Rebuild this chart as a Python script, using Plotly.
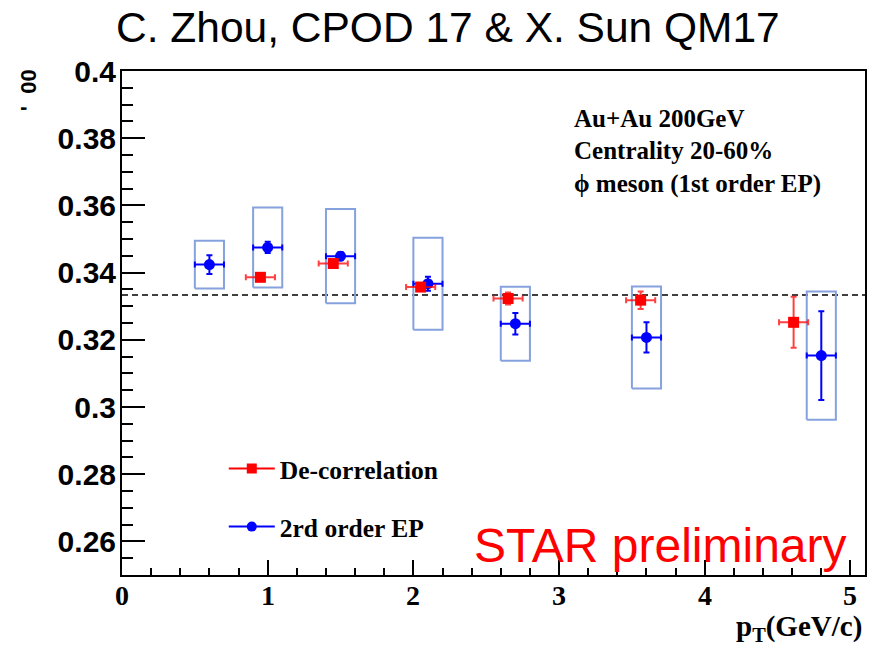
import plotly.graph_objects as go

# phi-meson spin alignment rho'_00 vs pT, Au+Au 200 GeV, centrality 20-60%
pt_dec = [0.95, 1.45, 2.05, 2.65, 3.56, 4.61]
rho_dec = [0.3386, 0.3427, 0.3357, 0.3323, 0.3318, 0.3252]
stat_dec = [0.0008, 0.0010, 0.0010, 0.0018, 0.0026, 0.0076]

pt_ep = [0.60, 1.00, 1.50, 2.10, 2.70, 3.60, 4.80]
rho_ep = [0.3424, 0.3475, 0.3449, 0.3367, 0.3248, 0.3207, 0.3153]
stat_ep = [0.0028, 0.0017, 0.0012, 0.0021, 0.0032, 0.0045, 0.0132]
sys_ep = [0.0071, 0.0119, 0.0140, 0.0137, 0.0110, 0.0152, 0.0191]

x_ticks = [0, 1, 2, 3, 4, 5]
y_ticks = [0.26, 0.28, 0.30, 0.32, 0.34, 0.36, 0.38, 0.40]
y_tick_text = ["0.26", "0.28", "0.3", "0.32", "0.34", "0.36", "0.38", "0.4"]

bin_half = 0.1            # half-width of the pT bins
rho_no_align = 1.0 / 3.0  # no spin alignment
x_range = [0, 5.1]
y_range = [0.25, 0.40]

SANS = "Liberation Sans"
SERIF = "Liberation Serif"
RED = "#ff0000"
BLUE = "#0000ff"
BOX = "#86a2de"

fig = go.Figure()

# reference line at 1/3
fig.add_trace(go.Scatter(
    x=x_range, y=[rho_no_align, rho_no_align], mode="lines",
    line=dict(color="black", width=1.5, dash="6px,4px"),
    showlegend=False, hoverinfo="skip"))

# systematic boxes for the 2nd-order EP points
bx, by = [], []
for x, y, s in zip(pt_ep, rho_ep, sys_ep):
    bx += [x - bin_half, x + bin_half, x + bin_half, x - bin_half, x - bin_half, None]
    by += [y - s, y - s, y + s, y + s, y - s, None]
fig.add_trace(go.Scatter(
    x=bx, y=by, mode="lines", line=dict(color=BOX, width=2),
    showlegend=False, hoverinfo="skip"))

fig.add_trace(go.Scatter(
    x=pt_ep, y=rho_ep, mode="markers",
    marker=dict(symbol="circle", size=11, color=BLUE),
    error_y=dict(type="data", array=stat_ep, color=BLUE, thickness=2, width=3),
    error_x=dict(type="constant", value=bin_half, color=BLUE, thickness=2, width=3),
    showlegend=False))

fig.add_trace(go.Scatter(
    x=pt_dec, y=rho_dec, mode="markers",
    marker=dict(symbol="square", size=11, color=RED),
    error_y=dict(type="data", array=stat_dec, color="rgba(255,0,0,0.75)", thickness=2, width=3),
    error_x=dict(type="constant", value=bin_half, color="rgba(255,0,0,0.75)", thickness=2, width=3),
    showlegend=False))

# legend entries (line + marker style)
fig.add_trace(go.Scatter(
    x=[None], y=[None], mode="lines+markers", name="De-correlation",
    line=dict(color=RED, width=2), marker=dict(symbol="square", size=10, color=RED),
    legend="legend"))
fig.add_trace(go.Scatter(
    x=[None], y=[None], mode="lines+markers", name="2rd order EP",
    line=dict(color=BLUE, width=2), marker=dict(symbol="circle", size=10, color=BLUE),
    legend="legend2"))

legend_font = dict(family=SERIF, size=25.5, color="black", weight="bold")
legend_common = dict(font=legend_font, bgcolor="rgba(0,0,0,0)", borderwidth=0,
                     xanchor="left", yanchor="middle", itemwidth=46)

fig.update_layout(
    width=880, height=651,
    margin=dict(l=122, r=15, t=71, b=76),
    paper_bgcolor="white", plot_bgcolor="white",
    showlegend=True,
    legend=dict(x=0.137, y=0.2103, **legend_common),
    legend2=dict(x=0.137, y=0.0952, **legend_common),
    xaxis=dict(
        range=x_range, showgrid=False, zeroline=False,
        showline=True, linecolor="black", linewidth=2, mirror=True,
        ticks="inside", ticklen=15, tickwidth=1.5, tickcolor="black",
        tickvals=x_ticks, showticklabels=False,
        minor=dict(ticks="inside", dtick=0.2, ticklen=7, tickwidth=1.5, tickcolor="black"),
    ),
    yaxis=dict(
        range=y_range, showgrid=False, zeroline=False,
        showline=True, linecolor="black", linewidth=2, mirror=True,
        ticks="inside", ticklen=23, tickwidth=1.5, tickcolor="black",
        tickvals=y_ticks, ticktext=y_tick_text,
        ticklabelstandoff=-2,
        tickfont=dict(family=SANS, size=30, color="black", weight="bold"),
        minor=dict(ticks="inside", dtick=0.005, tick0=0.25, ticklen=11, tickwidth=1.5, tickcolor="black"),
    ),
)

annotations = [
    dict(text="C. Zhou, CPOD 17 & X. Sun QM17", x=0.4388, y=1.0, yshift=44,
         xanchor="center", yanchor="middle", xref="paper", yref="paper",
         font=dict(family=SANS, size=42.5, color="black")),
    dict(text="Au+Au 200GeV", x=0.6057, y=0.9048, xanchor="left", yanchor="middle",
         xref="paper", yref="paper",
         font=dict(family=SERIF, size=25, color="black", weight="bold")),
    dict(text="Centrality 20-60%", x=0.6057, y=0.8413, xanchor="left", yanchor="middle",
         xref="paper", yref="paper",
         font=dict(family=SERIF, size=25, color="black", weight="bold")),
    dict(text="\u03d5 meson (1st order EP)", x=0.6057, y=0.7758, xanchor="left", yanchor="middle",
         xref="paper", yref="paper",
         font=dict(family=SERIF, size=25, color="black", weight="bold")),
    dict(text="STAR preliminary", x=0.4705, y=0.0576, xanchor="left", yanchor="middle",
         xref="paper", yref="paper",
         font=dict(family=SANS, size=48, color=RED)),
    dict(text="p<sub>T</sub>(GeV/c)", x=0.998, y=-0.1052, xanchor="right", yanchor="middle",
         xref="paper", yref="paper",
         font=dict(family=SERIF, size=29, color="black", weight="bold")),
    dict(text="'  00", x=-0.1265, y=0.962, xanchor="center", yanchor="middle", textangle=-90,
         xref="paper", yref="paper",
         font=dict(family=SANS, size=22, color="black", weight="bold")),
]
# x tick labels in bold serif, set close under the axis
for t in x_ticks:
    annotations.append(dict(
        text=str(t), x=t, xref="x", y=-0.0397, yref="paper",
        xanchor="center", yanchor="middle",
        font=dict(family=SERIF, size=28, color="black", weight="bold")))
for a in annotations:
    a["showarrow"] = False
fig.update_layout(annotations=annotations)

fig.write_html("out.html")
